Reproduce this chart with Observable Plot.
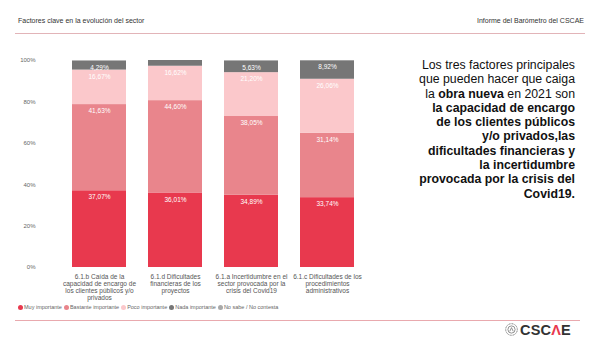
<!DOCTYPE html>
<html>
<head>
<meta charset="utf-8">
<script src="https://cdn.jsdelivr.net/npm/d3@7"></script>
<script src="https://cdn.jsdelivr.net/npm/@observablehq/plot@0.6"></script>
<style>
  html, body { margin: 0; padding: 0; background: #fff; }
  body { width: 600px; height: 356px; position: relative; overflow: hidden; font-family: "Liberation Sans", Arial, sans-serif; }
  .hdr { position: absolute; top: 17px; font-size: 7px; color: #333; }
  .rule { position: absolute; left: 15px; width: 570px; height: 1px; background: #e2b4b8; }
  #chart { position: absolute; left: 0; top: 50px; }
  #note { position: absolute; right: 25px; top: 58px; width: 220px; text-align: right; font-size: 12.3px; line-height: 14.3px; color: #111; }
  #legend { position: absolute; left: 18px; top: 304px; font-size: 5.5px; color: #666; white-space: nowrap; }
  #legend span.it { margin-right: 2px; }
  #legend i { display: inline-block; width: 5px; height: 5px; border-radius: 50%; vertical-align: -0.5px; margin-right: 1px; }
  #logo { position: absolute; left: 505px; top: 322px; font-size: 14.5px; font-weight: bold; color: #333; letter-spacing: 0.2px; }
</style>
</head>
<body>
<div class="hdr" style="left:18px">Factores clave en la evolución del sector</div>
<div class="hdr" style="right:16px">Informe del Barómetro del CSCAE</div>
<div class="rule" style="top:33px"></div>
<div id="chart"></div>
<div id="note">Los tres factores principales<br>que pueden hacer que caiga<br>la <b>obra nueva</b> en 2021 son<br><b>la capacidad de encargo<br>de los clientes públicos<br>y/o privados,las<br>dificultades financieras y<br>la incertidumbre<br>provocada por la crisis del<br>Covid19.</b></div>
<div id="legend"></div>
<div class="rule" style="top:320px; background:#e9a9ae; width:565px"></div>
<div id="logo"><svg width="13" height="13" viewBox="0 0 13 13" style="vertical-align:-1px;margin-right:2px"><circle cx="6.5" cy="6.5" r="5.8" fill="none" stroke="#777" stroke-width="1" stroke-dasharray="1 0.6"/><circle cx="6.5" cy="6.5" r="3.6" fill="none" stroke="#777" stroke-width="0.8"/><path d="M4.8 8.3 L6.5 4.6 L8.2 8.3" fill="none" stroke="#777" stroke-width="0.8"/></svg>CSC<span style="color:#e8394e">Λ</span>E</div>
<script>
const categories = [
  "6.1.b Caída de la\ncapacidad de encargo de\nlos clientes públicos y/o\nprivados",
  "6.1.d Dificultades\nfinancieras de los\nproyectos",
  "6.1.a Incertidumbre en el\nsector provocada por la\ncrisis del Covid19",
  "6.1.c Dificultades de los\nprocedimientos\nadministrativos"
];
const seriesNames = ["Muy importante", "Bastante importante", "Poco importante", "Nada importante", "No sabe / No contesta"];
const colors = ["#e8394e", "#e9858c", "#fbc8cb", "#767676", "#a9a9a9"];
const muyImportante = [37.07, 36.01, 34.89, 33.74];
const bastanteImportante = [41.63, 44.60, 38.05, 31.14];
const pocoImportante = [16.67, 16.62, 21.20, 26.06];
const nadaImportante = [4.29, 2.77, 5.63, 8.92];
const noSabe = [0.34, 0.00, 0.23, 0.14];
const yTicks = [0, 20, 40, 60, 80, 100];

const seriesValues = [muyImportante, bastanteImportante, pocoImportante, nadaImportante, noSabe];
const data = [];
seriesNames.forEach((s, si) => {
  categories.forEach((c, ci) => {
    data.push({cat: c, serie: s, value: seriesValues[si][ci]});
  });
});
const fmt = v => v.toFixed(2).replace(".", ",") + "%";
const labelData = data.filter(d => d.serie !== seriesNames[4] && d.value >= 3.5);

const chart = Plot.plot({
  width: 390,
  height: 255,
  marginLeft: 48,
  marginRight: 13,
  marginTop: 10,
  marginBottom: 38,
  style: {fontFamily: "Liberation Sans, Arial, sans-serif", background: "transparent"},
  x: {domain: categories, padding: 0.29, label: null, tickSize: 0, tickPadding: 7},
  y: {domain: [0, 100], ticks: yTicks, tickFormat: d => d + "%", label: null, tickSize: 0, tickPadding: 13},
  color: {domain: seriesNames, range: colors},
  marks: [
    Plot.barY(data, {x: "cat", y: "value", fill: "serie", order: seriesNames}),
    Plot.text(labelData, Plot.stackY2({x: "cat", y: "value", z: "serie", order: seriesNames, text: d => fmt(d.value), fill: "white", fontSize: 6.5, dy: 6.5})),
    Plot.axisX({tickSize: 0, tickPadding: 7, fontSize: 6.5, lineHeight: 1.07, fill: "#555", textAnchor: "middle"}),
    Plot.axisY({ticks: yTicks, tickSize: 0, tickPadding: 13, fontSize: 6, fill: "#666", tickFormat: d => d + "%"})
  ]
});
document.getElementById("chart").appendChild(chart);

const legend = document.getElementById("legend");
seriesNames.forEach((s, i) => {
  const sp = document.createElement("span");
  sp.className = "it";
  sp.innerHTML = `<i style="background:${colors[i]}"></i>${s}`;
  legend.appendChild(sp);
});
</script>
</body>
</html>
